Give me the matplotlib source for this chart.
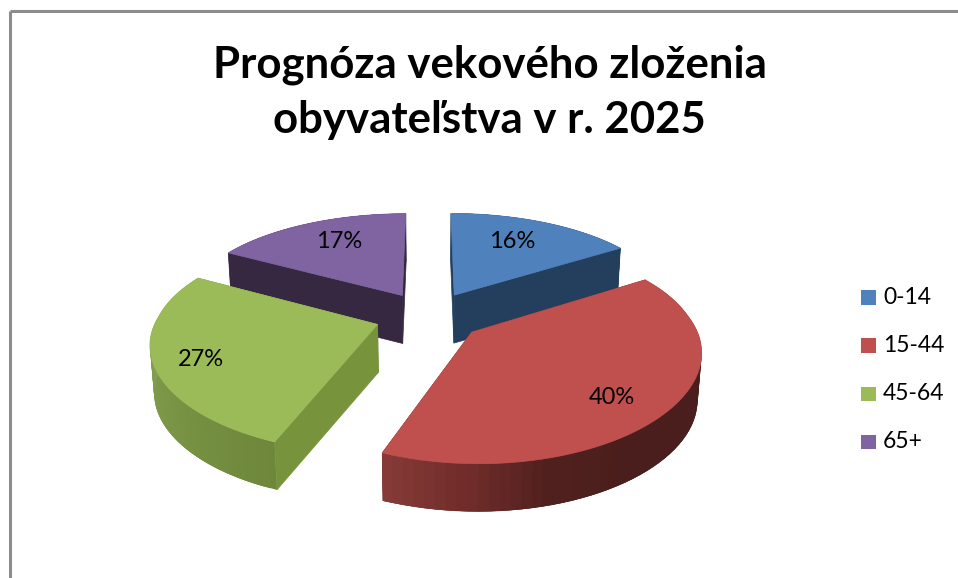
import numpy as np
import matplotlib as mpl
mpl.use('agg')
import matplotlib.pyplot as plt
from matplotlib.colors import LinearSegmentedColormap
from matplotlib.patches import Polygon, Rectangle

plt.rcParams['font.family'] = ['Lato', 'DejaVu Sans']

title = 'Prognóza vekového zloženia\nobyvateľstva v r. 2025'
categories = ['0-14', '15-44', '45-64', '65+']
shares = [16, 40, 27, 17]
top_colors = ['#4f81bd', '#c0504d', '#9bbb59', '#8064a2']
cut_colors = ['#243f5e', '#6f2c2a', '#77933c', '#352840']
# outer wall shade, from start of the slice (clockwise) to its end
side_shades = [[(0, '#243f5e'), (1, '#243f5e')],
               [(0, '#4a1e1c'), (0.6, '#4a1e1c'), (0.75, '#50201e'), (0.86, '#6e2b29'), (1, '#853a37')],
               [(0, '#6e873a'), (0.5, '#7f9a4b'), (1, '#8ba756')],
               [(0, '#352840'), (1, '#352840')]]

# projection of the pie, all in pixels
CX, CY = 429, 316
RX, RY = 220, 100
TILT_BACK = 0.128
TILT_FRONT_X = 0.17
TILT_FRONT_Y = 0.24
EXPLODE = 0.245
DEPTH = 48
BOTTOM_SCALE = 0.985


def project(u, v, down=False):
    u, v = np.asarray(u, float), np.asarray(v, float)
    kx = 1 - np.where(v > 0, TILT_BACK, TILT_FRONT_X) * v
    ky = 1 - np.where(v > 0, TILT_BACK, TILT_FRONT_Y) * v
    x = CX + RX * u * kx
    y = CY - RY * v * ky
    if down:
        x = CX + (x - CX) * BOTTOM_SCALE
        y = y + DEPTH
    return x, y


def ring(u0, v0, a):
    return u0 + np.sin(a), v0 + np.cos(a)


fig = plt.figure(figsize=(9.58, 5.78), dpi=100)
ax = fig.add_axes([0, 0, 1, 1])
ax.set_xlim(0, 958)
ax.set_ylim(578, 0)
ax.axis('off')

# frame of the chart, cut off on the right and bottom
ax.plot([10.5, 10.5], [578, 10.5], color='#8c8c8c', lw=2.2, solid_capstyle='butt')
ax.plot([10.5, 958], [10.5, 10.5], color='#8c8c8c', lw=2.2, solid_capstyle='butt')

edges = np.radians(np.cumsum([0] + shares) * 3.6)
labels_at = [(512, 241), (612, 397), (201, 360), (339, 242)]

# painter's order: back slices first
for i in [3, 0, 2, 1]:
    a0, a1 = edges[i], edges[i + 1]
    mid = (a0 + a1) / 2
    u0, v0 = EXPLODE * np.sin(mid), EXPLODE * np.cos(mid)

    # the two cut walls
    for a in (a0, a1):
        u, v = ring(u0, v0, a)
        pts = [project(u0, v0), project(u, v), project(u, v, True), project(u0, v0, True)]
        ax.add_patch(Polygon(pts, closed=True, fc=cut_colors[i], ec=cut_colors[i], lw=0.5))

    # outer wall in thin overlapping strips, so no seams show
    cmap = LinearSegmentedColormap.from_list('side', side_shades[i])
    steps = np.linspace(a0, a1, 61)
    for j in range(60):
        ua, va = ring(u0, v0, steps[j])
        ub, vb = ring(u0, v0, steps[min(j + 3, 60)])
        pts = [project(ua, va), project(ub, vb), project(ub, vb, True), project(ua, va, True)]
        c = cmap(j / 59)
        ax.add_patch(Polygon(pts, closed=True, fc=c, ec='none'))

    # top face
    us, vs = ring(u0, v0, np.linspace(a0, a1, 120))
    xs, ys = project(us, vs)
    ax_pts = [project(u0, v0)] + list(zip(xs, ys))
    ax.add_patch(Polygon(ax_pts, closed=True, fc=top_colors[i], ec=top_colors[i], lw=0.5))

for i, share in enumerate(shares):
    ax.text(labels_at[i][0], labels_at[i][1], '%d%%' % share, fontsize=17, color='black',
            ha='center', va='center')

ax.text(489.5, 92, title, fontsize=31.5, fontweight='bold', color='black', ha='center',
        va='center', linespacing=1.45)

# legend
for i, name in enumerate(categories):
    y = 297 + i * 48.3
    ax.add_patch(Rectangle((861, y - 7), 15, 14.5, fc=top_colors[i], ec='none'))
    ax.text(883, y, name, fontsize=16.5, color='black', ha='left', va='center')

plt.savefig('out.png', dpi=100)
